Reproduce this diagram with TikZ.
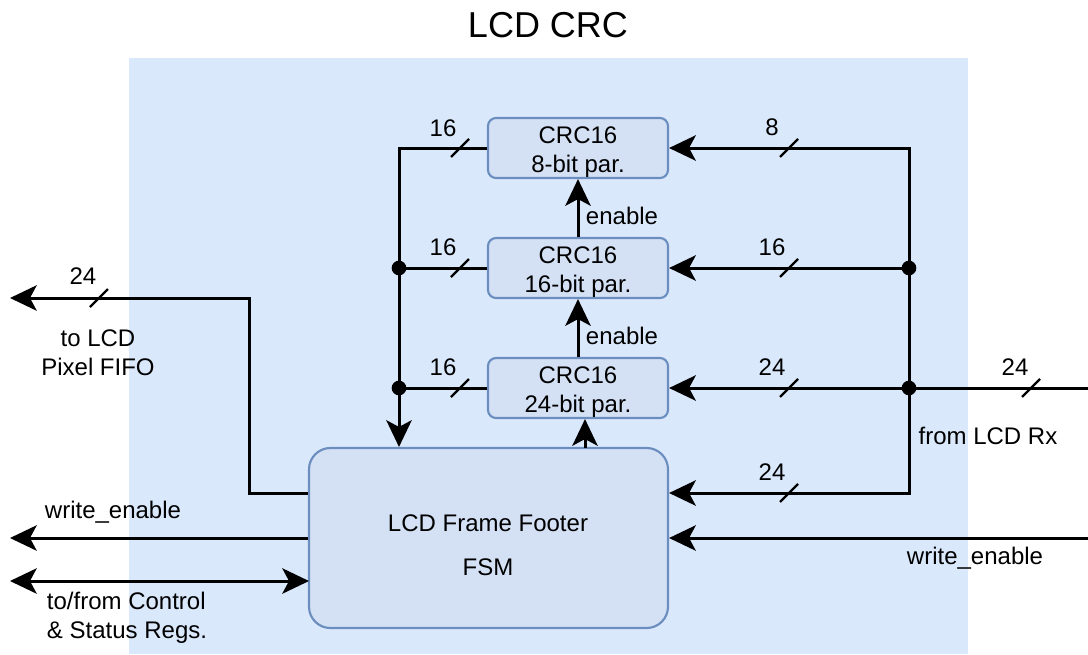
\documentclass[tikz,border=0pt]{standalone}
\usepackage{fontspec}
\setmainfont{Liberation Sans}
\usetikzlibrary{arrows.meta}

\definecolor{panelblue}{HTML}{DAE8FC}
\definecolor{boxfill}{HTML}{D4E1F5}
\definecolor{boxline}{HTML}{6C8EBF}

\newcommand\diagtext{\fontsize{18}{21.6}\selectfont}
\newcommand\diagtitle{\fontsize{27}{32}\selectfont}

\tikzset{
  tip/.tip={Stealth[length=20pt,width=19pt,inset=5pt]},
  wire/.style={line width=2.25pt, draw=black},
  sig/.style={wire, -tip},
  bisig/.style={wire, tip-tip},
  crcbox/.style={draw=boxline, fill=boxfill, line width=1.6pt, rounded corners=6pt,
    minimum width=135pt, minimum height=45pt, inner sep=0pt},
  fsmbox/.style={draw=boxline, fill=boxfill, line width=1.6pt, rounded corners=16pt,
    minimum width=269.25pt, minimum height=135pt, inner sep=0pt},
  lbl/.style={font=\diagtext, inner sep=0pt, align=center},
  junction/.style={circle, fill=black, inner sep=0pt, minimum size=11pt},
  busmark/.style={line width=1.8pt, draw=black},
}

\begin{document}
\begin{tikzpicture}[x=0.75pt, y=-0.75pt]
\useasboundingbox (0,0) rectangle (1088,654);

% block outline
\fill[panelblue] (129,58) rectangle (968,654);
\node[font=\diagtitle, inner sep=0pt] (title) at (548,25) {LCD CRC};

% CRC engines and the footer state machine
\node[crcbox] (crc8)  at (578,148) {};
\node[crcbox] (crc16) at (578,268) {};
\node[crcbox] (crc24) at (578,388) {};
\node[lbl] (crc8name)  at (578,152.5) {CRC16\\8-bit par.};
\node[lbl] (crc16name) at (578,272.5) {CRC16\\16-bit par.};
\node[lbl] (crc24name) at (578,392.5) {CRC16\\24-bit par.};
\node[fsmbox] (fsm) at (488.5,538) {};
\node[lbl] (fsmname) at (488,523) {LCD Frame Footer};
\node[lbl] (fsmkind) at (488,567) {FSM};

% bus junction points
\coordinate (lb8)  at (399,148);
\coordinate (lb16) at (399,268);
\coordinate (lb24) at (399,388);
\coordinate (rb8)  at (909,148);
\coordinate (rb16) at (909,268);
\coordinate (rb24) at (909,388);
\coordinate (rbot) at (909,493);
\coordinate (rxin) at (1088,388);
\coordinate (wein) at (1088,538);
\coordinate (fsmtap) at (585,448);
\coordinate (pxbend) at (249,493);
\coordinate (pxup) at (249,298);
\coordinate (pxout) at (10,298);
\coordinate (weout) at (10,538);
\coordinate (csrl) at (10,581);
\coordinate (csrr) at (309,581);

% CRC results gathered into the FSM
\draw[sig] (crc8.west) -- (lb8) -- (lb8 |- fsm.north);
\draw[wire] (crc16.west) -- (lb16);
\draw[wire] (crc24.west) -- (lb24);
\node[junction] (jl16) at (lb16) {};
\node[junction] (jl24) at (lb24) {};

% pixel data fanned out to the engines and the FSM
\draw[bisig] (crc8.east) -- (rb8) -- (rbot) -- (rbot -| fsm.east);
\draw[sig] (rb16) -- (crc16.east);
\draw[sig] (rxin) -- (crc24.east);
\node[junction] (jr16) at (rb16) {};
\node[junction] (jr24) at (rb24) {};

% enable chain
\draw[sig] (crc16.north) -- (crc8.south);
\draw[sig] (crc24.north) -- (crc16.south);
\draw[sig] (fsmtap) -- (fsmtap |- crc24.south);
\node[lbl] (en1) at (622,216) {enable};
\node[lbl] (en2) at (622,336) {enable};

% outside connections
\draw[sig] (fsm.west |- pxbend) -- (pxbend) -- (pxup) -- (pxout);
\draw[sig] (fsm.west) -- (weout);
\draw[bisig] (csrl) -- (csrr);
\draw[sig] (wein) -- (fsm.east);

% bus widths
\foreach \x/\y in {460/148, 460/268, 460/388, 789/148, 789/268, 789/388, 789/493, 1031/388, 99/298}
  \draw[busmark] (\x,\y) ++(-9,9) -- ++(18,-18);

\node[lbl] (w8l)  at (443,128) {16};
\node[lbl] (w16l) at (443,247) {16};
\node[lbl] (w24l) at (443,367) {16};
\node[lbl] (w8r)  at (772,127) {8};
\node[lbl] (w16r) at (772,247) {16};
\node[lbl] (w24r) at (772,367) {24};
\node[lbl] (wfsm) at (772,472) {24};
\node[lbl] (wrx)  at (1015,367) {24};
\node[lbl] (wpx)  at (83,276) {24};

% signal names
\node[lbl] (rxname) at (988,436) {from LCD Rx};
\node[lbl] (pxname) at (98,353) {to LCD\\Pixel FIFO};
\node[lbl] (weoname) at (113,512) {write\_enable};
\node[lbl, align=left] (csrname) at (127,618) {to/from Control\\\& Status Regs.};
\node[lbl] (weiname) at (975,558) {write\_enable};
\end{tikzpicture}
\end{document}
